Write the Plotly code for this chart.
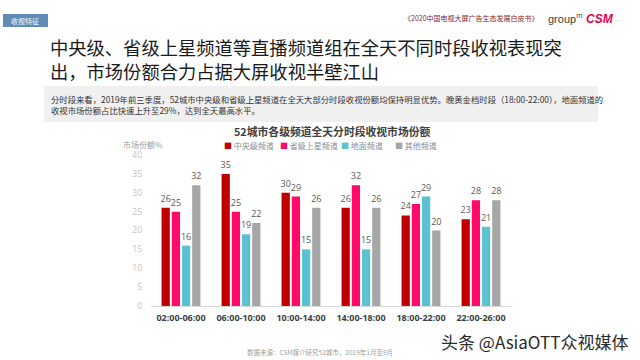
import plotly.graph_objects as go

periods = ["02:00-06:00", "06:00-10:00", "10:00-14:00", "14:00-18:00", "18:00-22:00", "22:00-26:00"]
series_names = ["中央级频道", "省级上星频道", "地面频道", "其他频道"]
cctv = [26, 35, 30, 26, 24, 23]
satellite = [25, 25, 29, 32, 27, 28]
terrestrial = [16, 19, 15, 15, 29, 21]
others = [32, 22, 26, 26, 20, 28]
colors = ["#C00000", "#FF0A6A", "#5BC2D0", "#A6A6A6"]
y_ticks = [0, 5, 10, 15, 20, 25, 30, 35, 40]

W, H = 640, 360
PL, PR, PT, PB = 151, 511, 155, 306
FONT = "Open Sans, Noto Sans CJK SC, sans-serif"
CJK = "Noto Sans CJK SC, sans-serif"


def px(x):
    return (x - PL) / (PR - PL)


def py(y):
    return (PB - y) / (PB - PT)


fig = go.Figure()
for name, vals, col in zip(series_names, [cctv, satellite, terrestrial, others], colors):
    fig.add_trace(go.Bar(
        x=periods, y=vals, name=name, marker_color=col, marker_line_width=0,
        text=vals, textposition="outside", constraintext="none", cliponaxis=False,
        textfont=dict(size=9, color="#595959", family=FONT),
        showlegend=False,
    ))

fig.update_layout(
    width=W, height=H, autosize=False,
    margin=dict(l=PL, r=W - PR, t=PT, b=H - PB, pad=0),
    paper_bgcolor="white", plot_bgcolor="white",
    barmode="group", bargap=0.32, bargroupgap=0.19,
    font=dict(family=FONT),
    xaxis=dict(showline=True, linecolor="#D9D9D9", linewidth=1, ticks="", ticklabelstandoff=3,
               tickfont=dict(size=9, color="#404040", family=FONT, weight="bold"),
               showgrid=False, fixedrange=True),
    yaxis=dict(range=[0, 40], tickvals=y_ticks, showgrid=False, zeroline=False,
               showline=False, ticks="", ticklabelstandoff=8,
               tickfont=dict(size=8.5, color="#C4C4C4", family=FONT), fixedrange=True),
)

shapes = []
annots = []

# header tag
shapes.append(dict(type="rect", xref="paper", yref="paper", x0=px(3), x1=px(48), y0=py(14), y1=py(27),
                   fillcolor="#5F8BB5", line_width=0, layer="below"))
annots.append(dict(text="收视特征", x=px(25), y=py(20.5), xref="paper", yref="paper", showarrow=False,
                   font=dict(size=7, color="white", family=CJK), xanchor="center", yanchor="middle"))

# top right
annots.append(dict(text="《2020中国电视大屏广告生态发展白皮书》", x=px(541), y=py(18), xref="paper", yref="paper",
                   showarrow=False, xanchor="right", yanchor="middle",
                   font=dict(size=7, color="#8B2323", family=CJK)))
annots.append(dict(text="group<sup>m</sup>", x=px(546), y=py(18), xref="paper", yref="paper",
                   showarrow=False, xanchor="left", yanchor="middle",
                   font=dict(size=11, color="#404040", family="Liberation Sans, sans-serif")))
annots.append(dict(text="<b><i>CSM</i></b>", x=px(584), y=py(19), xref="paper", yref="paper",
                   showarrow=False, xanchor="left", yanchor="middle",
                   font=dict(size=12, color="#E5004F", family="Liberation Sans, sans-serif")))
annots.append(dict(text="······", x=px(611), y=py(20), xref="paper", yref="paper",
                   showarrow=False, xanchor="left", yanchor="middle",
                   font=dict(size=5, color="#999999")))

# main title
annots.append(dict(text="中央级、省级上星频道等直播频道组在全天不同时段收视表现突<br>出，市场份额合力占据大屏收视半壁江山",
                   x=px(48), y=py(31.5), xref="paper", yref="paper", showarrow=False,
                   xanchor="left", yanchor="top", align="left",
                   font=dict(size=18.3, color="#1A1A1A", family=CJK)))

# subtitle box
shapes.append(dict(type="rect", xref="paper", yref="paper", x0=px(44), x1=px(598), y0=py(86), y1=py(122),
                   fillcolor="#F0F0F0", line_width=0, layer="below"))
annots.append(dict(text="分时段来看，2019年前三季度，52城市中央级和省级上星频道在全天大部分时段收视份额均保持明显优势。晚黄金档时段（18:00-22:00），地面频道的<br>收视市场份额占比快速上升至29%，达到全天最高水平。",
                   x=px(49), y=py(104), xref="paper", yref="paper", showarrow=False,
                   xanchor="left", yanchor="middle", align="left",
                   font=dict(size=8.35, color="#333333", family=CJK)))

# chart title
annots.append(dict(text="<b>52城市各级频道全天分时段收视市场份额</b>", x=px(332), y=py(131), xref="paper", yref="paper",
                   showarrow=False, xanchor="center", yanchor="middle",
                   font=dict(size=10.8, color="#404040", family=CJK)))

# y-axis title
annots.append(dict(text="市场份额%", x=px(121), y=py(144), xref="paper", yref="paper",
                   showarrow=False, xanchor="left", yanchor="middle",
                   font=dict(size=8, color="#A0A0A0", family=CJK)))

# legend
leg_x = [222, 278, 339, 393]
for name, col, lx in zip(series_names, colors, leg_x):
    annots.append(dict(text=f"<span style='color:{col}'>■</span> {name}", x=px(lx), y=py(145),
                       xref="paper", yref="paper", showarrow=False, xanchor="left", yanchor="middle",
                       font=dict(size=8, color="#8C8C8C", family=CJK)))

# footer
annots.append(dict(text="数据来源：CSM媒介研究52城市，2019年1月至9月", x=px(245), y=py(352), xref="paper", yref="paper",
                   showarrow=False, xanchor="left", yanchor="middle",
                   font=dict(size=6.5, color="#A0A0A0", family=CJK)))

# watermark
annots.append(dict(text="头条 @AsiaOTT众视媒体", x=px(630), y=py(341), xref="paper", yref="paper",
                   showarrow=False, xanchor="right", yanchor="middle",
                   font=dict(size=17, color="#2B2B2B", family=CJK)))

fig.update_layout(shapes=shapes, annotations=annots)
fig.write_html("out.html", config={"displayModeBar": False},
               post_script="document.body.style.margin='0';document.body.style.overflow='hidden';")
